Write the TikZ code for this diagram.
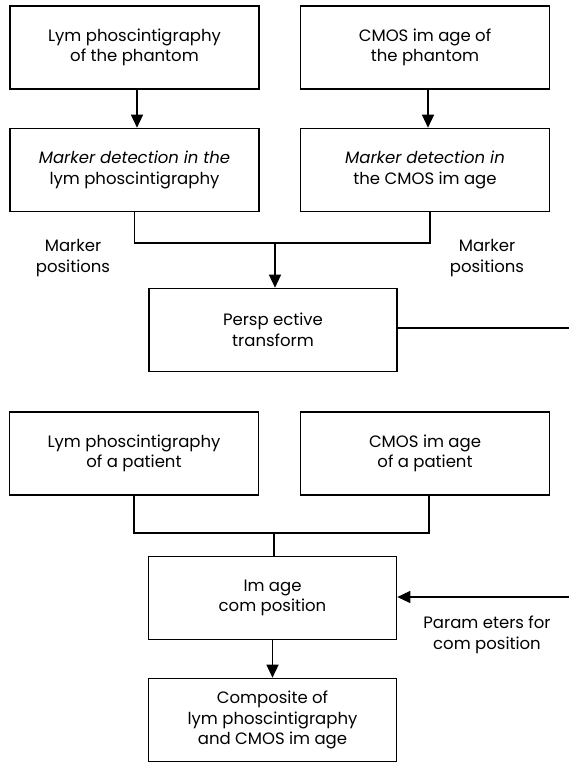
\documentclass[tikz,border=0pt]{standalone}
\usepackage{fontspec}
\setmainfont{Poppins}
\usetikzlibrary{arrows.meta,calc}
\begin{document}
\begin{tikzpicture}[x=1pt,y=-1pt,
  box/.style={draw, line width=1.6pt, minimum height=83pt, inner sep=0pt, align=center,
    font=\fontsize{16.5}{20.5}\selectfont},
  wbox/.style={box, minimum width=249pt},
  lbl/.style={align=center, inner sep=0pt, font=\fontsize{16.5}{20.5}\selectfont},
  conn/.style={line width=1.4pt},
  arr/.style={conn, -{Triangle[length=13pt,width=12pt]}}]
\useasboundingbox (0,0) rectangle (569,763);
\node[wbox] (b1) at (134.5,47.5) {Lym phoscintigraphy\\of the phantom};
\node[wbox] (b2) at (425,47.5) {CMOS im age of\\the phantom};
\node[wbox] (b3) at (134.5,170) {\itshape Marker detection in the\\lym phoscintigraphy};
\node[wbox] (b4) at (425,170) {\itshape Marker detection in\\the CMOS im age};
\node[wbox, minimum width=248pt] (b5) at (273,330) {Persp ective\\transform};
\node[wbox] (b6) at (134,453.5) {Lym phoscintigraphy\\of a patient};
\node[wbox] (b7) at (425,453.5) {CMOS im age\\of a patient};
\node[wbox, minimum width=248pt] (b8) at (272.5,598) {Im age\\com position};
\node[wbox, minimum width=248pt] (b9) at (272.5,720) {Composite of\\lym phoscintigraphy\\and CMOS im age};
\node[lbl] (m1) at (73,258) {Marker\\positions};
\node[lbl] (m2) at (487,258) {Marker\\positions};
\node[lbl] (p1) at (487,635) {Param eters for\\com position};
\coordinate (j1) at (275,243);
\coordinate (j2) at (274,533);
\coordinate (e1) at (569,328);
\coordinate (e2) at (569,597);
\draw[arr] ([xshift=2.5pt]b1.south) -- ([xshift=2.5pt]b3.north);
\draw[arr] ([xshift=3pt]b2.south) -- ([xshift=3pt]b4.north);
\draw[conn] (b3.south) |- (j1) -| ([xshift=5pt]b4.south);
\draw[arr] (j1) -- (j1 |- b5.north);
\draw[conn] (b5.east |- e1) -- (e1);
\draw[conn] (b6.south) |- (j2) -| ([xshift=4pt]b7.south);
\draw[conn] (j2) -- (j2 |- b8.north);
\draw[arr] (e2) -- (b8.east |- e2);
\draw[arr] (b8.south) -- (b9.north);
\end{tikzpicture}
\end{document}
